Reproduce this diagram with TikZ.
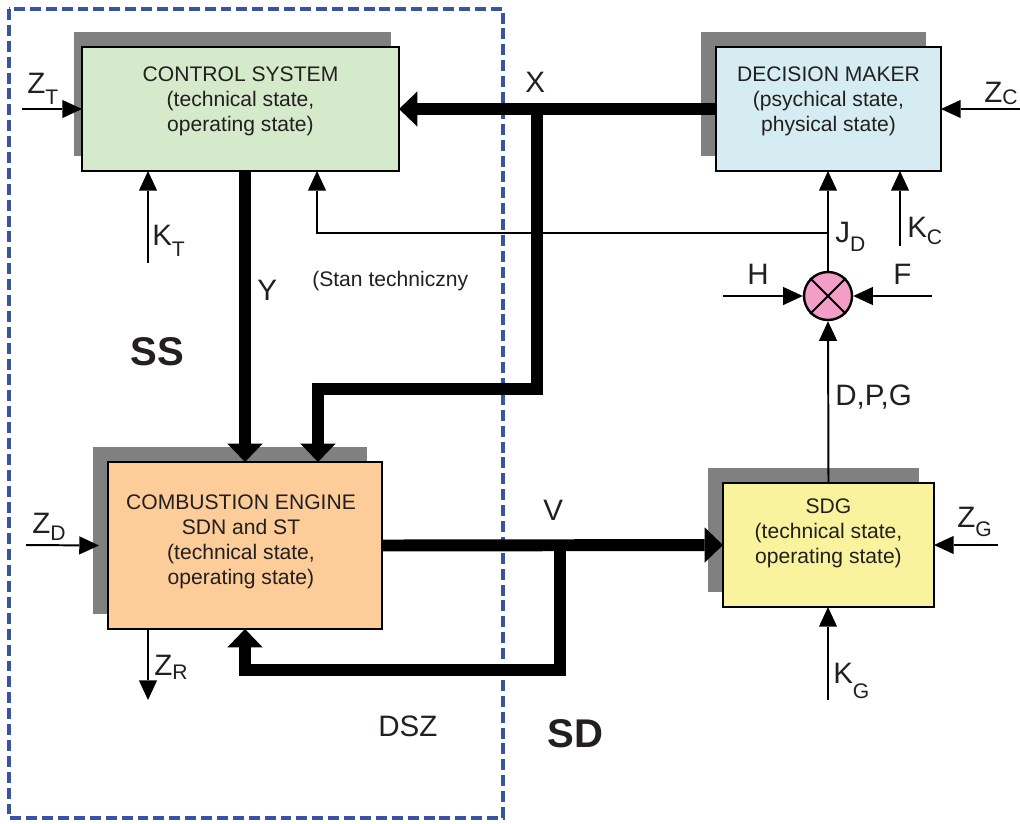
\documentclass[tikz,border=0pt]{standalone}
\usepackage{fontspec}
\setmainfont{Liberation Sans}
\usetikzlibrary{arrows.meta,shadows}
\definecolor{CtrlGreen}{RGB}{212,234,203}
\definecolor{DecBlue}{RGB}{213,237,242}
\definecolor{EngOrange}{RGB}{252,204,153}
\definecolor{SdgYellow}{RGB}{250,243,158}
\definecolor{MulPink}{RGB}{242,158,198}
\definecolor{ShadowGray}{RGB}{128,128,128}
\definecolor{FrameBlue}{RGB}{57,83,164}
\definecolor{TextBlack}{RGB}{35,31,32}
\newcommand{\lowsub}[2][8.5pt]{\raisebox{-#1}{\fontsize{15}{15}\selectfont #2}}

\begin{document}
\begin{tikzpicture}[x=0.025cm,y=-0.025cm,
    blockbox/.style={draw=black, line width=1.8pt, inner sep=0pt, outer sep=0pt,
      general shadow={fill=ShadowGray, shadow xshift=-0.375cm, shadow yshift=0.375cm}},
    blocktext/.style={align=center, inner sep=0pt, text=TextBlack,
      font=\fontsize{15}{17.7}\selectfont},
    sig/.style={anchor=base west, inner sep=0pt, text=TextBlack,
      font=\fontsize{21}{25}\selectfont},
    bigsig/.style={anchor=base west, inner sep=0pt, text=TextBlack,
      font=\fontsize{28.5}{30}\selectfont\bfseries},
    note/.style={anchor=base west, inner sep=0pt, text=TextBlack,
      font=\fontsize{15}{17.7}\selectfont},
    sigarrow/.style={line width=1.4pt, -{Triangle[length=14pt,width=13pt,line width=0pt]}},
    flow/.style={line width=8.5pt, line join=miter, -{Triangle[length=13pt,width=25pt,line width=0pt]}},
    frameline/.style={draw=FrameBlue, line width=2.2pt, dash pattern=on 7.8pt off 3.5pt}]
  \useasboundingbox (0,0) rectangle (1020,823);

  % DSZ frame
  \draw[frameline] (9,9) rectangle (503,818);

  % blocks
  \node[draw=black, line width=1.8pt, inner sep=0pt, outer sep=0pt,
    general shadow={fill=ShadowGray, shadow xshift=-0.2cm, shadow yshift=0.375cm},
    fill=CtrlGreen, minimum width=7.925cm, minimum height=3.1cm] (ctrl) at (240.5,109) {};
  \node[blocktext] (ctrltxt) at ([yshift=0.2cm]ctrl.center) {CONTROL SYSTEM\\(technical state,\\operating state)};
  \node[blockbox, fill=DecBlue, minimum width=5.625cm, minimum height=3.1cm] (dec) at (828.5,109) {};
  \node[blocktext] (dectxt) at ([yshift=0.2cm]dec.center) {DECISION MAKER\\(psychical state,\\physical state)};
  \node[blockbox, fill=EngOrange, minimum width=6.85cm, minimum height=4.175cm] (eng) at (245,545.5) {};
  \node[blocktext] (engtxt) at ([xshift=-0.1cm,yshift=0.09cm]eng.center) {COMBUSTION ENGINE\\SDN and ST\\(technical state,\\operating state)};
  \node[blockbox, fill=SdgYellow, minimum width=5.275cm, minimum height=3.1cm] (sdg) at (828.5,545) {};
  \node[blocktext] (sdgtxt) at ([yshift=0.3cm]sdg.center) {SDG\\(technical state,\\operating state)};

  % multiplier
  \node[circle, draw, line width=1.7pt, fill=MulPink, minimum size=1.2cm, inner sep=0pt] (mul) at (828,296) {};
  \draw[line width=1.4pt] (mul.north west) -- (mul.south east) (mul.north east) -- (mul.south west);

  % free ends and bends
  \coordinate (ztin) at (22,109);
  \coordinate (ktin) at (148,263);
  \coordinate (zdin) at (26,545);
  \coordinate (zrout) at (148,700);
  \coordinate (zcin) at (1020,109);
  \coordinate (kcin) at (900,246);
  \coordinate (hin) at (723,296);
  \coordinate (fin) at (932,296);
  \coordinate (zgin) at (998,545);
  \coordinate (kgin) at (828,700);
  \coordinate (xsplit) at (537,109);
  \coordinate (xbend) at (537,389);
  \coordinate (xdrop) at (318,389);
  \coordinate (vsplit) at (560,545);
  \coordinate (vbend) at (560,670);
  \coordinate (vrise) at (245,670);
  \coordinate (jdsplit) at (828,233);
  \coordinate (fbbend) at (317,233);
  \coordinate (ycol) at (245,0);

  % signals
  \draw[sigarrow] (ztin) -- (ctrl.west);
  \draw[sigarrow] (ktin) -- (ktin |- ctrl.south);
  \draw[sigarrow] (jdsplit) -- (fbbend) -- (fbbend |- ctrl.south);
  \draw[sigarrow] (mul.north) -- (mul.north |- dec.south);
  \draw[sigarrow] (kcin) -- (kcin |- dec.south);
  \draw[sigarrow] (zcin) -- (dec.east);
  \draw[sigarrow] (hin) -- (mul.west);
  \draw[sigarrow] (fin) -- (mul.east);
  \draw[sigarrow] (sdg.north) -- (mul.south);
  \draw[sigarrow] (kgin) -- (kgin |- sdg.south);
  \draw[sigarrow] (zgin) -- (sdg.east);
  \draw[sigarrow] (zdin) -- ([xshift=-0.225cm]eng.west);
  \draw[sigarrow] (zrout |- eng.south) -- (zrout);

  % flows
  \draw[flow] (dec.west) -- (ctrl.east);
  \draw[flow] (xsplit) -- (xbend) -- (xdrop) -- (xdrop |- eng.north);
  \draw[flow] (ycol |- ctrl.south) -- (ycol |- eng.north);
  \draw[flow] (eng.east) -- (sdg.west);
  \draw[flow] (vsplit) -- (vbend) -- (vrise) -- (vrise |- eng.south);

  % labels
  \node[sig] (ztlab) at (27,93) {Z\lowsub{T}};
  \node[sig] (ktlab) at (152,245) {K\lowsub{T}};
  \node[sig] (ylab) at (257,300) {Y};
  \node[sig] (xlab) at (525,92) {X};
  \node[sig] (zdlab) at (32,533) {Z\lowsub[5pt]{D}};
  \node[sig] (zrlab) at (154,675) {Z\lowsub[3.5pt]{R}};
  \node[sig] (vlab) at (543,520) {V};
  \node[sig] (dszlab) at (378,736) {DSZ};
  \node[sig] (zclab) at (984,102) {Z\lowsub[1.5pt]{C}};
  \node[sig] (kclab) at (907,237) {K\lowsub[5pt]{C}};
  \node[sig] (jdlab) at (835,242) {J\lowsub[6.4pt]{D}};
  \node[sig] (hlab) at (747,284) {H};
  \node[sig] (flab) at (893,284) {F};
  \node[sig] (dpglab) at (835,405) {D,P,G};
  \node[sig] (zglab) at (957,527) {Z\lowsub[7pt]{G}};
  \node[sig] (kglab) at (833,683) {K\lowsub[11.3pt]{G}};
  \node[bigsig] (sslab) at (130,365) {SS};
  \node[bigsig] (sdlab) at (547,747) {SD};
  \node[note] (stanlab) at (312,286) {(Stan techniczny};
\end{tikzpicture}
\end{document}
